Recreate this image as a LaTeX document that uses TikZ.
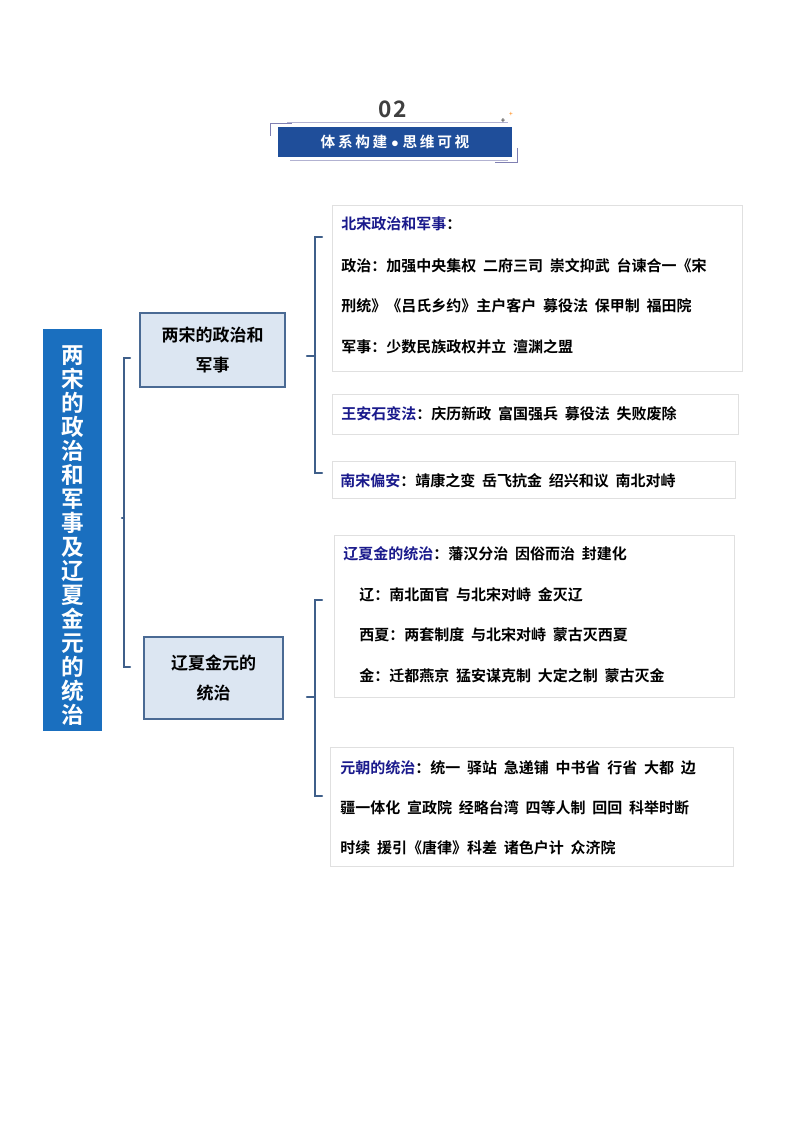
\documentclass[tikz,border=0pt]{standalone}
\usepackage{fontspec}
\setmainfont{Noto Sans CJK SC}[BoldFont={Noto Sans CJK SC Bold}]
\newcommand{\gp}{\hspace{0.45em}}
\begin{document}
\begin{tikzpicture}[x=0.75pt,y=-0.75pt,
  sub/.style={draw={rgb,255:red,74;green,106;blue,148}, fill={rgb,255:red,220;green,230;blue,242}, line width=0.8pt, font=\bfseries\fontsize{12.75}{22.5}\selectfont, align=center, inner sep=0pt},
  rbox/.style={draw=black!12, line width=0.6pt},
  ln/.style={anchor=west, font=\bfseries\fontsize{11.25}{13}\selectfont, inner sep=0pt},
  br/.style={draw={rgb,255:red,63;green,95;blue,138}, line width=1.6pt, line cap=round},
]
\definecolor{hd}{HTML}{1A1A8C}
\useasboundingbox (0,0) rectangle (794,1123);
\fill[white] (0,0) rectangle (794,1123);
% title
\node[font=\bfseries\fontsize{17}{17}\selectfont, text=black!75] (num) at (393,109) {0\hspace{1pt}2};
\draw[blue!40!black!50, line width=0.6pt] (270,136) -- (270,123) -- (292,123);
\draw[blue!40!black!50, line width=0.6pt] (517,148) -- (517,162) -- (495,162);
\draw[blue!40!black!30, line width=0.6pt] (287,122) -- (508,122);
\draw[blue!40!black!30, line width=0.6pt] (290,160) -- (508,160);
\node[fill={rgb,255:red,31;green,78;blue,154}, minimum width=234*0.75pt, minimum height=30*0.75pt, inner sep=0pt, text=white, font=\bfseries\fontsize{11}{12}\selectfont] (ban) at (395,142) {体\hspace{2pt}系\hspace{2pt}构\hspace{2pt}建\hspace{3pt}$\bullet$\hspace{3pt}思\hspace{2pt}维\hspace{2pt}可\hspace{2pt}视};
\node[font=\fontsize{6}{6}\selectfont, text=black] (s1) at (503,121) {+};
\node[font=\fontsize{5}{5}\selectfont, text=orange] (s2) at (511,114) {+};
% main vertical box
\node[fill={rgb,255:red,26;green,111;blue,191}, minimum width=59*0.75pt, minimum height=402*0.75pt, inner sep=0pt] (main) at (72.5,530) {};
\node[text=white, font=\bfseries\fontsize{17}{18}\selectfont, align=center, inner sep=0pt] (maint) at (72.5,536) {两\\宋\\的\\政\\治\\和\\军\\事\\及\\辽\\夏\\金\\元\\的\\统\\治};
% sub boxes
\node[sub, minimum width=145*0.75pt, minimum height=74*0.75pt] (b1) at (212.5,350) {两宋的政治和\\军事};
\node[sub, minimum width=139*0.75pt, minimum height=82*0.75pt] (b2) at (213.5,678) {辽夏金元的\\统治};
% brackets
\coordinate (L1) at (130,358); \coordinate (L2) at (130,667); \coordinate (Lm) at (122,518);
\draw[br] (L1) -- (124,358) -- (124,667) -- (L2);
\draw[br] (124,518) -- (Lm);
\draw[br] (322,237) -- (315,237) -- (315,473) -- (322,473);
\draw[br] (315,356) -- (307,356);
\draw[br] (322,600) -- (315,600) -- (315,796) -- (322,796);
\draw[br] (315,697) -- (307,697);
% right boxes
\draw[rbox] (332,205) rectangle (742,371);
\node[ln] (r1a) at (341,224) {\textcolor{hd}{北宋政治和军事}：};
\node[ln] (r1b) at (341,266) {政治：加强中央集权\gp 二府三司\gp 崇文抑武\gp 台谏合一《宋};
\node[ln] (r1c) at (341,306) {刑统》《吕氏乡约》主户客户\gp 募役法\gp 保甲制\gp 福田院};
\node[ln] (r1d) at (341,347) {军事：少数民族政权并立\gp 澶渊之盟};
\draw[rbox] (332,394) rectangle (738,434);
\node[ln] (r2) at (341,414) {\textcolor{hd}{王安石变法}：庆历新政\gp 富国强兵\gp 募役法\gp 失败废除};
\draw[rbox] (332,461) rectangle (735,498);
\node[ln] (r3) at (340,481) {\textcolor{hd}{南宋偏安}：靖康之变\gp 岳飞抗金\gp 绍兴和议\gp 南北对峙};
\draw[rbox] (334,535) rectangle (734,697);
\node[ln] (r4a) at (343,554) {\textcolor{hd}{辽夏金的统治}：藩汉分治\gp 因俗而治\gp 封建化};
\node[ln] (r4b) at (359,595) {辽：南北面官\gp 与北宋对峙\gp 金灭辽};
\node[ln] (r4c) at (359,635) {西夏：两套制度\gp 与北宋对峙\gp 蒙古灭西夏};
\node[ln] (r4d) at (359,676) {金：迁都燕京\gp 猛安谋克制\gp 大定之制\gp 蒙古灭金};
\draw[rbox] (330,747) rectangle (733,866);
\node[ln] (r5a) at (340,768) {\textcolor{hd}{元朝的统治}：统一\gp 驿站\gp 急递铺\gp 中书省\gp 行省\gp 大都\gp 边};
\node[ln] (r5b) at (340,808) {疆一体化\gp 宣政院\gp 经略台湾\gp 四等人制\gp 回回\gp 科举时断};
\node[ln] (r5c) at (340,848) {时续\gp 援引《唐律》科差\gp 诸色户计\gp 众济院};
\end{tikzpicture}
\end{document}
